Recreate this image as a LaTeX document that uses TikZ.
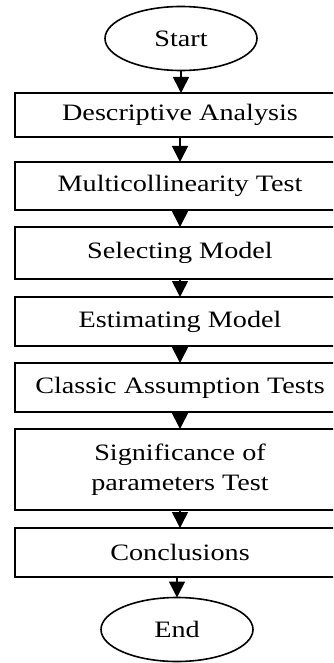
\documentclass[tikz,border=0pt]{standalone}
\usepackage{fontspec}
\setmainfont[FakeStretch=1.2]{Liberation Serif}
\usetikzlibrary{shapes.geometric,arrows.meta}
\tikzset{
  stepbox/.style={draw, line width=1.6pt, rectangle, minimum width=330pt, inner sep=0pt, outer sep=0pt, align=center, font=\fontsize{23.5}{30}\selectfont},
  terminal/.style={draw, line width=1.6pt, ellipse, minimum width=152pt, minimum height=64pt, inner sep=0pt, outer sep=0pt, font=\fontsize{23.5}{30}\selectfont},
  flow/.style={line width=1.6pt, -{Triangle[width=16pt,length=16pt]}}
}
\begin{document}
\begin{tikzpicture}[x=1pt,y=-1pt]
\path[use as bounding box, clip] (0,0) rectangle (333,663);
\node[terminal] (start) at (181,38.5) {Start};
\node[stepbox, minimum height=44pt] (b1) at (180,115) {Descriptive Analysis};
\node[stepbox, minimum height=48pt] (b2) at (180,186) {Multicollinearity Test};
\node[stepbox, minimum height=52pt] (b3) at (180,253) {Selecting Model};
\node[stepbox, minimum height=49pt] (b4) at (180,321.5) {Estimating Model};
\node[stepbox, minimum height=49pt] (b5) at (180,387.5) {Classic Assumption Tests};
\node[stepbox, minimum height=81pt] (b6) at (180,469.5) {Significance of\\parameters Test};
\node[stepbox, minimum height=49pt] (b7) at (180,552.5) {Conclusions};
\node[terminal] (end) at (177,629.5) {End};
\draw[flow] (start.south) -- (start.south |- b1.north);
\draw[flow] (b1) -- (b2);
\draw[flow] (b2) -- (b3);
\draw[flow] (b3) -- (b4);
\draw[flow] (b4) -- (b5);
\draw[flow] (b5) -- (b6);
\draw[flow] (b6) -- (b7);
\draw[flow] (b7.south -| end.north) -- (end.north);
\end{tikzpicture}
\end{document}
